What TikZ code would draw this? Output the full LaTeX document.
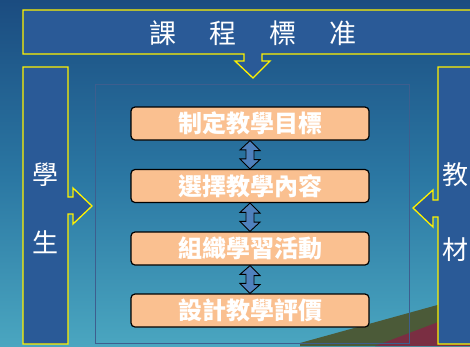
\documentclass[tikz,border=0pt]{standalone}
\usepackage{fontspec}
\newfontfamily\cjk{Noto Sans CJK TC}
\usetikzlibrary{calc}
\definecolor{bgtop}{HTML}{1B4C80}
\definecolor{bgmid}{HTML}{2A76A2}
\definecolor{bgbot}{HTML}{4AA6C0}
\definecolor{panel}{HTML}{2A5A97}
\definecolor{peach}{HTML}{FAC090}
\definecolor{arrowblue}{HTML}{4F81BD}
\definecolor{frameline}{HTML}{3D5E8E}
\definecolor{hillgreen}{HTML}{4B5A38}
\definecolor{hillred}{HTML}{7A2E42}
\tikzset{
  panelshape/.style={fill=panel, draw=yellow, line width=1.3pt, line join=miter},
  stepbox/.style={fill=peach, draw=black, line width=1.2pt, rounded corners=4pt,
    minimum width=238pt, minimum height=33pt, inner sep=0pt,
    font=\cjk\bfseries\fontsize{24}{24}\selectfont, text=white},
  dblarrow/.style={fill=arrowblue, draw=black, line width=0.9pt, line join=miter},
  sidetext/.style={font=\cjk\fontsize{26}{26}\selectfont, text=white, inner sep=0pt},
}
\begin{document}
\begin{tikzpicture}[x=1pt,y=-1pt]
\useasboundingbox (0,0) rectangle (470,346);
\clip (0,0) rectangle (470,346);
% background
\shade[top color=bgtop, bottom color=bgbot, middle color=bgmid] (0,0) rectangle (470,346);
% hills at bottom right
\fill[hillgreen] (300,346) -- (300,343) -- (470,296) -- (470,346) -- cycle;
\fill[hillred] (375,346) -- (470,310) -- (470,346) -- cycle;
% inner faint frame
\draw[frameline, line width=1pt] (95,84) rectangle (409,343);
% top banner with down arrow
\draw[panelshape] (23,10) -- (476,10) -- (476,54) -- (262,54) -- (262,61) -- (270,61)
  -- (253,78) -- (235,61) -- (244,61) -- (244,54) -- (23,54) -- cycle;
\node[sidetext, font=\cjk\fontsize{27}{27}\selectfont] (title) at (253,33)
  {課\hspace{33pt}程\hspace{33pt}標\hspace{33pt}准};
% left panel with right arrow
\draw[panelshape] (23,67) -- (68,67) -- (68,197) -- (73,197) -- (73,188) -- (92,206)
  -- (73,224) -- (73,214) -- (68,214) -- (68,344) -- (23,344) -- cycle;
\node[sidetext] (stu1) at (45.5,175) {學};
\node[sidetext] (stu2) at (45.5,242) {生};
% right panel with left arrow
\draw[panelshape] (476,67) -- (438,67) -- (438,200) -- (433,200) -- (433,190) -- (413,208)
  -- (433,227) -- (433,217) -- (438,217) -- (438,344) -- (476,344);
\node[sidetext] (mat1) at (455,175) {教};
\node[sidetext] (mat2) at (455,250) {材};
% steps
\node[stepbox] (s1) at (250,123.5) {制定教學目標};
\node[stepbox] (s2) at (250,186)   {選擇教學內容};
\node[stepbox] (s3) at (250,248.5) {組織學習活動};
\node[stepbox] (s4) at (250,310.5) {設計教學評價};
% double arrows
\foreach \a/\b in {s1/s2, s2/s3, s3/s4}{
  \draw[dblarrow] (\a.south) -- ++(10,10) -- ++(-6,0) -- ++(0,9) -- ++(6,0)
    -- (\b.north) -- ++(-10,-10) -- ++(6,0) -- ++(0,-9) -- ++(-6,0) -- cycle;
}
\end{tikzpicture}
\end{document}
